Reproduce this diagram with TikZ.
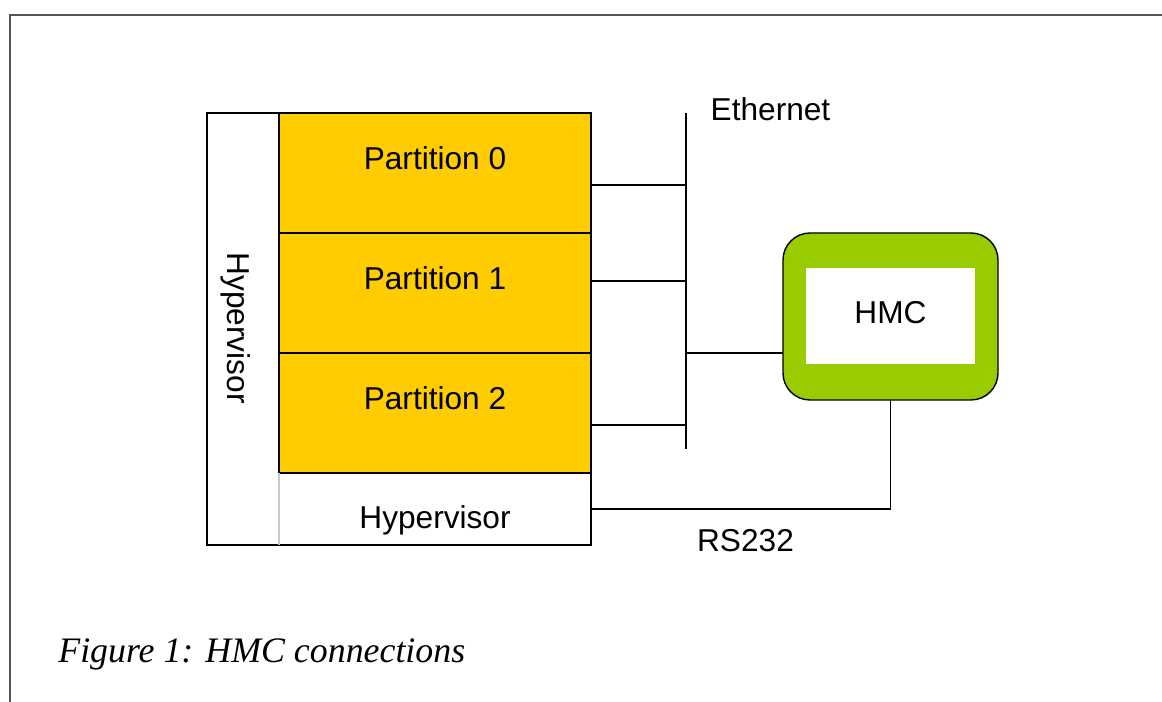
\documentclass[tikz,border=0pt]{standalone}
\usepackage{fontspec}
\setmainfont{Liberation Serif}
\setsansfont{Liberation Sans}
\usetikzlibrary{positioning,calc}
\definecolor{partyellow}{RGB}{255,204,0}
\definecolor{hmcgreen}{RGB}{153,204,0}
\definecolor{framegray}{RGB}{85,85,85}
\definecolor{edgegray}{RGB}{200,200,200}
\tikzset{
  lbl/.style={font=\sffamily\fontsize{18}{21}\selectfont, inner sep=0pt},
  capt/.style={font=\rmfamily\itshape\fontsize{20.4}{24}\selectfont, inner sep=0pt},
  wire/.style={black, line width=1pt},
  part/.style={lbl, draw=black, fill=partyellow, line width=1pt, minimum width=6.24cm,
    minimum height=2.4cm, outer sep=0pt, text height=0.45cm, text depth=0.57cm},
  hypbox/.style={lbl, minimum width=6.24cm, minimum height=1.44cm, outer sep=0pt,
    text height=0.93cm, text depth=0.13cm},
  hmcbox/.style={draw=black, fill=hmcgreen, line width=0.8pt, rounded corners=0.54cm,
    minimum width=4.3cm, minimum height=3.34cm, inner sep=0pt, outer sep=0pt},
  hmcscreen/.style={lbl, fill=white, minimum width=3.38cm, minimum height=1.92cm,
    text height=0.45cm, text depth=0.18cm},
}

\begin{document}
\begin{tikzpicture}
  \useasboundingbox (0,0) rectangle (23.24,14.04);
  % page frame
  \draw[framegray, line width=1.1pt] (0.2,0) -- (0.2,13.74) -- (23.24,13.74);
  % partitions and hypervisor
  \node[part] (p0) at (8.7,10.58) {Partition 0};
  \node[part, below=0pt of p0] (p1) {Partition 1};
  \node[part, below=0pt of p1] (p2) {Partition 2};
  \node[hypbox, below=0pt of p2] (hyp) {Hypervisor};
  \draw[wire] (p0.north west) -- ++(-1.44,0) |- (hyp.south east) -- (hyp.north east);
  \draw[edgegray, line width=0.6pt] (hyp.south west) -- (hyp.north west);
  \node[lbl, rotate=-90] (hvlbl) at (4.72,7.48) {Hypervisor};
  % ethernet bus
  \coordinate (ethTop) at (13.72,11.78);
  \coordinate (ethBot) at (13.72,5.06);
  \draw[black, line width=0.9pt] (ethTop) -- (ethBot);
  \node[lbl] (ethlbl) at (15.41,11.86) {Ethernet};
  \coordinate (l0) at ([yshift=-0.24cm]p0.east);
  \coordinate (l1) at ([yshift=0.24cm]p1.east);
  \coordinate (l2) at ([yshift=-0.24cm]p2.east);
  \draw[wire] (l0) -- (l0 -| ethTop);
  \draw[wire] (l1) -- (l1 -| ethTop);
  \draw[wire] (l2) -- (l2 -| ethTop);
  % HMC
  \node[hmcbox] (hmc) at (17.81,7.71) {};
  \node[hmcscreen] (hmcscr) at (hmc) {HMC};
  \coordinate (lh) at ([yshift=-0.73cm]hmc.west);
  \draw[wire] (lh -| ethTop) -- (lh);
  % serial line
  \draw[wire] (hyp.east) -| (hmc.south);
  \node[lbl] (rslbl) at (14.91,3.22) {RS232};
  \node[capt, anchor=base west] (caption) at (1.16,0.78) {Figure 1: HMC connections};
\end{tikzpicture}
\end{document}
